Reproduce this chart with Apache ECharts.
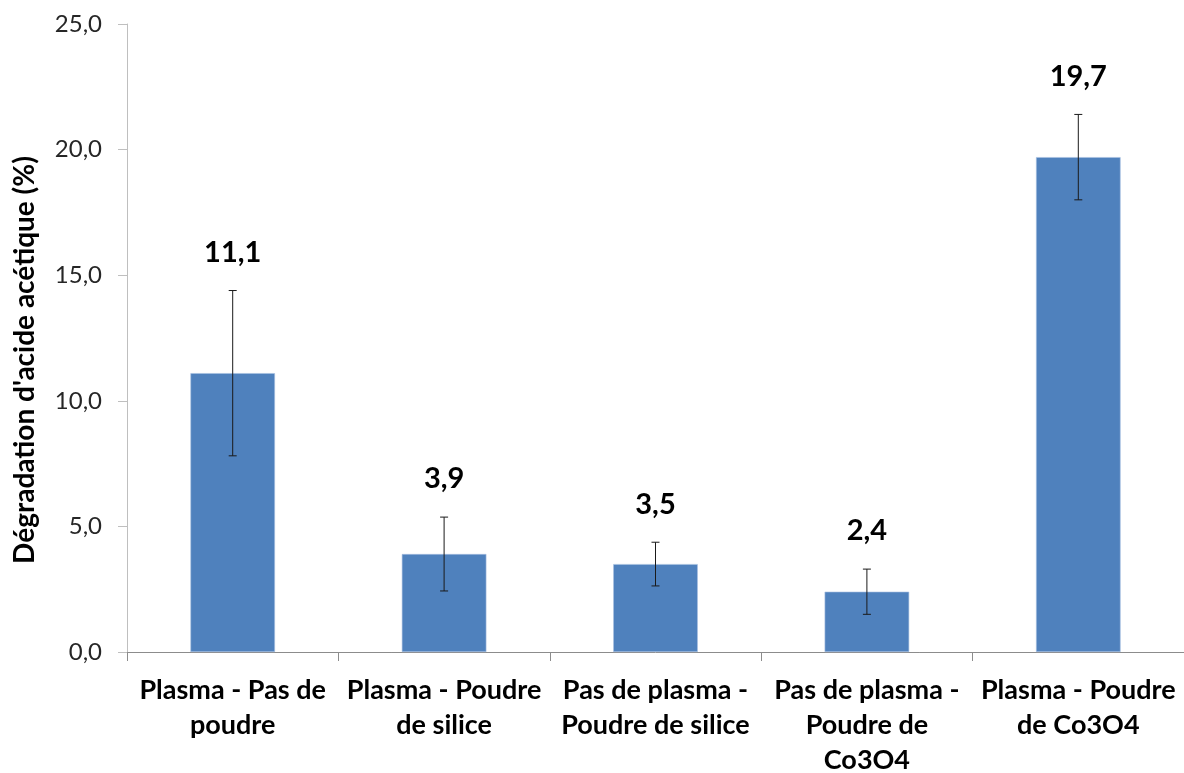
<!DOCTYPE html>
<html>
<head>
<meta charset="utf-8">
<script src="https://cdn.jsdelivr.net/npm/echarts@6/dist/echarts.min.js"></script>
<style>
html,body{margin:0;padding:0;background:#fff;overflow:hidden;width:1184px;height:773px;}
#chart{width:1184px;height:773px;}
</style>
</head>
<body>
<div id="chart"></div>
<script>
const categories = [
  "Plasma - Pas de\npoudre",
  "Plasma - Poudre\nde silice",
  "Pas de plasma -\nPoudre de silice",
  "Pas de plasma -\nPoudre de\nCo3O4",
  "Plasma - Poudre\nde Co3O4"
];
const values = [11.1, 3.9, 3.5, 2.4, 19.7];
const errors = [3.29, 1.47, 0.87, 0.9, 1.7];
const yTicks = { min: 0, max: 25, interval: 5 };
const yTitle = "Dégradation d'acide acétique (%)";

const FONT = "Lato";
const fmt = v => v.toFixed(1).replace('.', ',');

const errData = values.map((v, i) => [i, v - errors[i], v + errors[i], v]);

const chart = echarts.init(document.getElementById('chart'), null, { renderer: 'canvas', width: 1184, height: 773 });
chart.setOption({
  animation: false,
  backgroundColor: '#ffffff',
  grid: { left: 127, right: 0, top: 24, bottom: 121, containLabel: false, outerBoundsMode: 'none' },
  graphic: [{
    type: 'text',
    x: 25, y: 360,
    rotation: Math.PI / 2,
    style: { text: yTitle, fill: '#000', font: 'bold 28px ' + FONT,
             textAlign: 'center', textVerticalAlign: 'middle' }
  }],
  xAxis: {
    type: 'category',
    data: categories,
    axisLine: { lineStyle: { color: '#8c8c8c', width: 1 } },
    axisTick: { show: true, length: 9, lineStyle: { color: '#8c8c8c' } },
    axisLabel: {
      color: '#000', fontFamily: FONT, fontWeight: 'bold', fontSize: 27,
      lineHeight: 35, margin: 21, interval: 0, hideOverlap: false
    }
  },
  yAxis: {
    type: 'value',
    min: yTicks.min, max: yTicks.max, interval: yTicks.interval,
    axisLine: { show: true, lineStyle: { color: '#bfbfbf', width: 1 } },
    axisTick: { show: true, length: 9, lineStyle: { color: '#bfbfbf' } },
    splitLine: { show: false },
    axisLabel: {
      color: '#262626', fontFamily: FONT, fontSize: 24, margin: 25,
      formatter: v => fmt(v)
    }
  },
  series: [
    {
      type: 'bar',
      data: values,
      barWidth: '40%',
      itemStyle: { color: '#4F81BD', borderColor: '#a8c0e0', borderWidth: 0.6 }
    },
    {
      type: 'custom',
      data: errData,
      z: 10,
      renderItem: function (params, api) {
        const i = api.value(0);
        const lo = api.coord([i, api.value(1)]);
        const hi = api.coord([i, api.value(2)]);
        const cw = 4;
        const st = { stroke: '#1a1a1a', lineWidth: 1 };
        return {
          type: 'group',
          children: [
            { type: 'line', shape: { x1: hi[0], y1: hi[1], x2: lo[0], y2: lo[1] }, style: st },
            { type: 'line', shape: { x1: hi[0] - cw, y1: hi[1], x2: hi[0] + cw, y2: hi[1] }, style: st },
            { type: 'line', shape: { x1: lo[0] - cw, y1: lo[1], x2: lo[0] + cw, y2: lo[1] }, style: st },
            { type: 'text', x: hi[0], y: hi[1] - 38,
              style: { text: fmt(api.value(3)), fill: '#000', font: 'bold 29px ' + FONT,
                       textAlign: 'center', textVerticalAlign: 'middle' } }
          ]
        };
      }
    }
  ]
});
</script>
</body>
</html>
